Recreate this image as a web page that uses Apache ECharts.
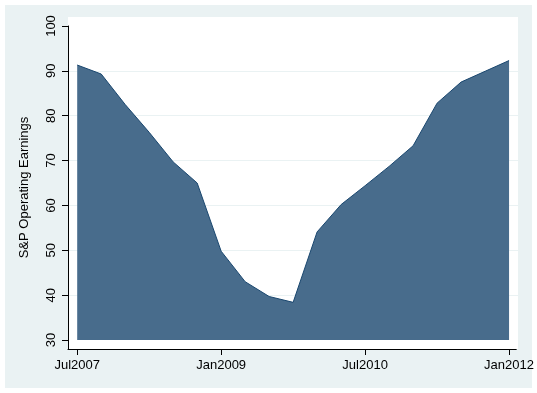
<!DOCTYPE html>
<html>
<head>
<meta charset="utf-8">
<script src="https://cdn.jsdelivr.net/npm/echarts@6/dist/echarts.min.js"></script>
<style>
html,body{margin:0;padding:0;background:#fff;}
#chart{width:537px;height:393px;}
</style>
</head>
<body>
<div id="chart"></div>
<script>
// Quarterly dates and S&P operating earnings
const dates = ['2007-07','2007-10','2008-01','2008-04','2008-07','2008-10','2009-01','2009-04','2009-07','2009-10',
               '2010-01','2010-04','2010-07','2010-10','2011-01','2011-04','2011-07','2011-10','2012-01'];
const earnings = [91.3, 89.3, 82.5, 76.3, 69.7, 65.0, 49.8, 43.0, 39.7, 38.4,
                  54.1, 60.2, 64.4, 68.7, 73.3, 82.8, 87.5, 89.9, 92.3];
const yTicks = [30, 40, 50, 60, 70, 80, 90, 100];
const yGridLines = [40, 50, 60, 70, 80, 90];
const xTickDates = ['2007-07', '2009-01', '2010-07', '2012-01'];
const xTickLabels = ['Jul2007', 'Jan2009', 'Jul2010', 'Jan2012'];
const yTitle = 'S&P Operating Earnings';

function monthIndex(s) {
  const p = s.split('-');
  return (parseInt(p[0], 10) - 2007) * 12 + (parseInt(p[1], 10) - 7);
}
const xTickValues = xTickDates.map(monthIndex);
const seriesData = dates.map((d, i) => [monthIndex(d), earnings[i]]);

const FONT = 'Arial, "Liberation Sans", sans-serif';
const chart = echarts.init(document.getElementById('chart'));
chart.setOption({
  animation: false,
  backgroundColor: '#ffffff',
  graphic: [{
    type: 'rect', z: -10, silent: true,
    shape: { x: 5, y: 5, width: 527, height: 383 },
    style: { fill: '#eaf2f3' }
  }],
  grid: [
    { left: 68, right: 19, top: 17, bottom: 44, show: true, backgroundColor: '#ffffff', borderWidth: 0 },
    { left: 68, right: 20, top: 26, bottom: 44 }
  ],
  xAxis: [
    { gridIndex: 0, type: 'value', min: 0, max: 1, show: false },
    {
      gridIndex: 1, type: 'value', min: -1.15, max: 54.9,
      axisLine: { show: true, onZero: false, lineStyle: { color: '#000', width: 1 } },
      axisTick: { show: true, customValues: xTickValues, length: 6, lineStyle: { color: '#000' } },
      axisLabel: {
        customValues: xTickValues, margin: 10, color: '#000', fontSize: 13, fontFamily: FONT,
        formatter: v => { const i = xTickValues.indexOf(Math.round(v)); return i >= 0 ? xTickLabels[i] : ''; }
      },
      splitLine: { show: false }
    }
  ],
  yAxis: [
    {
      gridIndex: 0, type: 'value', min: 28, max: 102,
      axisLine: { show: false }, axisLabel: { show: false },
      axisTick: { show: false, customValues: yGridLines },
      splitLine: { show: true, lineStyle: { color: '#eaf2f3', width: 1 } }
    },
    {
      gridIndex: 1, type: 'value', min: 28, max: 100,
      name: yTitle, nameLocation: 'middle', nameGap: 37, nameRotate: 90,
      nameTextStyle: { color: '#000', fontSize: 13, fontFamily: FONT },
      axisLine: { show: true, onZero: false, lineStyle: { color: '#000', width: 1 } },
      axisTick: { show: true, customValues: yTicks, length: 6, lineStyle: { color: '#000' } },
      axisLabel: { customValues: yTicks, rotate: 90, margin: 10, color: '#000', fontSize: 13, fontFamily: FONT },
      splitLine: { show: false }
    }
  ],
  series: [{
    type: 'line', xAxisIndex: 1, yAxisIndex: 1,
    data: seriesData, symbol: 'none',
    lineStyle: { color: '#1a476f', width: 1 },
    areaStyle: { color: '#486c8c', opacity: 1, origin: 30 }
  }]
});
</script>
</body>
</html>
